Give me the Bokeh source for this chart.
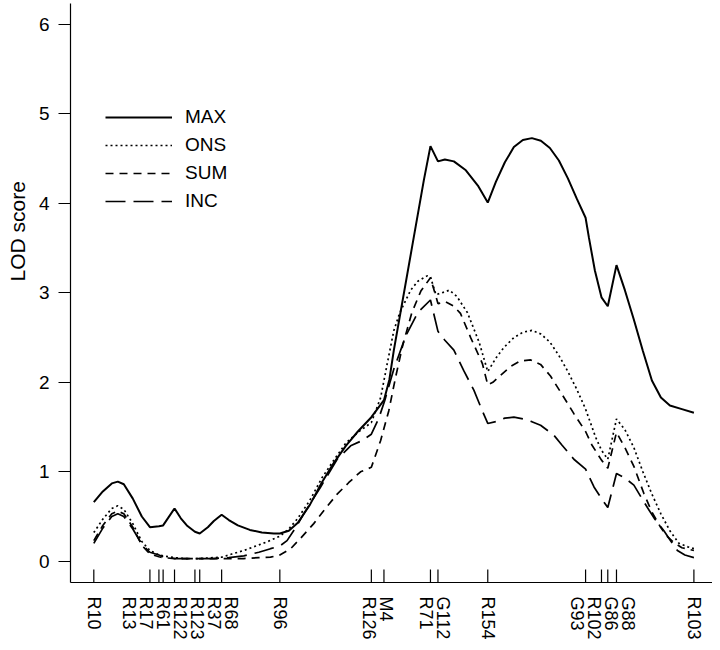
import math
from bokeh.plotting import figure
from bokeh.models import Range1d, FixedTicker, Legend, LegendItem, Title
from bokeh.embed import file_html
from bokeh.resources import INLINE

# ---------------- data ----------------
marker_names = ["R10", "R13", "R17", "R61", "R122", "R123", "R37", "R68", "R96",
                "R126", "M4", "R71", "G112", "R154", "G93", "R102", "G86", "G88", "R103"]
marker_pos = [0.0, 18.7, 21.7, 23.1, 26.9, 33.7, 35.3, 42.6, 62.0,
              92.5, 96.7, 112.2, 114.7, 131.3, 163.9, 169.2, 171.3, 174.2, 200.0]

y_ticks = [0, 1, 2, 3, 4, 5, 6]

max_x = [0, 3, 6, 8, 10, 13, 16, 18.7, 21.7, 23.1, 26.9, 29, 31, 33.7, 35.3, 38, 40, 42.6,
         45, 48, 52, 56, 60, 62, 65, 68, 72, 76, 80, 84, 88, 92.5, 96.7, 98.5, 100, 102,
         106, 110, 112.2, 114.7, 117, 120, 124, 128, 131.3, 134, 137, 140, 143, 146, 149,
         152, 155, 158, 161, 163.9, 165, 167, 169.2, 171.3, 174.2, 177, 180, 183, 186, 189,
         192, 196, 200]
max_y = [0.66, 0.78, 0.87, 0.89, 0.86, 0.70, 0.50, 0.38, 0.39, 0.40, 0.59, 0.48, 0.40, 0.33, 0.31, 0.38, 0.45, 0.52,
         0.46, 0.40, 0.35, 0.32, 0.31, 0.31, 0.34, 0.43, 0.63, 0.88, 1.10, 1.29, 1.45, 1.61, 1.80, 2.03, 2.36, 2.74,
         3.50, 4.26, 4.64, 4.47, 4.49, 4.47, 4.37, 4.20, 4.01, 4.24, 4.46, 4.63, 4.71, 4.73, 4.70,
         4.62, 4.48, 4.28, 4.05, 3.84, 3.62, 3.25, 2.95, 2.85, 3.31, 3.03, 2.70, 2.35, 2.02, 1.83,
         1.74, 1.70, 1.66]

ons_x = [0, 3, 6, 8, 10, 13, 16, 18.7, 21.7, 23.1, 26.9, 30, 35, 40, 42.6, 46, 50, 54, 58, 62,
         65, 68, 72, 76, 80, 84, 88, 92.5, 95.6, 97.8, 100, 102, 105.6, 108, 111.1, 112.2, 114,
         116, 118.5, 121, 124.5, 128.4, 131.3, 134, 136.7, 140, 143, 146, 149, 152, 155, 158,
         161, 163.9, 167.2, 169.2, 171.3, 174.2, 177, 180, 183, 186, 189, 192, 195, 198, 200]
ons_y = [0.32, 0.47, 0.59, 0.62, 0.58, 0.42, 0.22, 0.12, 0.07, 0.06, 0.04, 0.03, 0.03, 0.04, 0.045, 0.08, 0.12, 0.17, 0.22, 0.28,
         0.36, 0.48, 0.68, 0.93, 1.13, 1.32, 1.44, 1.55, 1.83, 2.21, 2.58, 2.78, 3.03, 3.13, 3.19, 3.18, 2.98,
         3.00, 3.03, 2.96, 2.78, 2.45, 2.12, 2.27, 2.39, 2.50, 2.56, 2.58, 2.54, 2.45, 2.30, 2.12,
         1.92, 1.70, 1.39, 1.24, 1.14, 1.59, 1.47, 1.27, 1.00, 0.75, 0.53, 0.34, 0.20, 0.16, 0.14]

sum_x = [0, 3, 6, 8, 10, 13, 16, 18.7, 21.7, 23.1, 26.9, 30, 35, 40, 45, 50, 55, 58.9, 62, 65.6,
         69, 73.3, 77, 81.1, 85, 88.9, 92.5, 95.6, 98.3, 100.6, 103, 106, 109, 112.2, 114.7,
         117.2, 120, 122.2, 125.6, 129.5, 131.3, 133, 135.6, 139, 142.2, 145.6, 148.9, 152.2,
         155.6, 160, 163.9, 166, 169.2, 171.3, 174.2, 177, 180, 183.3, 186, 188.9, 191, 193.3,
         196, 200]
sum_y = [0.23, 0.40, 0.53, 0.56, 0.53, 0.38, 0.18, 0.08, 0.05, 0.04, 0.03, 0.03, 0.03, 0.03, 0.03, 0.03, 0.04, 0.045, 0.07, 0.14,
         0.26, 0.42, 0.58, 0.75, 0.88, 1.00, 1.05, 1.35, 1.68, 2.06, 2.42, 2.78, 3.02, 3.17, 2.88,
         2.90, 2.85, 2.77, 2.50, 2.21, 1.97, 2.00, 2.08, 2.18, 2.24, 2.25, 2.20, 2.07,
         1.89, 1.65, 1.45, 1.30, 1.13, 1.04, 1.44, 1.27, 1.06, 0.76, 0.55, 0.38, 0.28, 0.21,
         0.15, 0.12]

inc_x = [0, 3, 6, 8, 10, 13, 16, 18.7, 21.7, 23.1, 26.9, 30, 35, 40, 45, 50, 55, 58.9, 62, 64.4,
         67, 70, 75.6, 81.1, 85.6, 89.5, 92.5, 95, 97, 100, 104, 108, 112.2, 114.7, 117, 120,
         123.3, 126.7, 129.5, 131.3, 134, 137, 140, 143.3, 146, 148.9, 153.3, 156, 160, 163.9,
         166.7, 169.2, 171.3, 174.2, 177, 180, 184.5, 187, 190, 192, 194.5, 197, 200]
inc_y = [0.20, 0.37, 0.50, 0.53, 0.50, 0.36, 0.19, 0.10, 0.07, 0.05, 0.03, 0.03, 0.03, 0.03, 0.04, 0.06, 0.10, 0.14, 0.17, 0.23,
         0.36, 0.53, 0.83, 1.14, 1.29, 1.35, 1.42, 1.60, 1.80, 2.15, 2.52, 2.78, 2.92, 2.57, 2.47, 2.36,
         2.13, 1.91, 1.68, 1.54, 1.56, 1.60, 1.61, 1.59, 1.56, 1.52, 1.41, 1.30, 1.14, 1.03,
         0.83, 0.70, 0.60, 0.98, 0.93, 0.85, 0.60, 0.47, 0.34, 0.24, 0.12, 0.07, 0.04]

# ---------------- layout ----------------
FONT = "Liberation Sans"
FS = "19px"
XFS = "18px"
W, H = 712, 642
BL, BT, BB, BR = 70, 3, 60, 0
X0, X1 = -7.77, 206.2
Y0, Y1 = -0.238, 6.235
PX_PER_CM = (W - BL - BR) / (X1 - X0)
PX_PER_LOD = (H - BT - BB) / (Y1 - Y0)
LABEL_GAP = 17.0 / PX_PER_CM  # minimum label spacing in cM


def spread(pos, gap):
    groups = [[p] for p in pos]

    def place(g):
        c = sum(g) / len(g)
        s = c - gap * (len(g) - 1) / 2.0
        return s, s + gap * (len(g) - 1)

    changed = True
    while changed:
        changed = False
        for i in range(len(groups) - 1):
            _, e1 = place(groups[i])
            s2, _ = place(groups[i + 1])
            if s2 - e1 < gap:
                groups[i] = groups[i] + groups[i + 1]
                del groups[i + 1]
                changed = True
                break
    out = []
    for g in groups:
        s, _ = place(g)
        out += [round(s + gap * k, 4) for k in range(len(g))]
    return out


label_pos = spread(marker_pos, LABEL_GAP)

p = figure(width=W, height=H, x_range=Range1d(X0, X1), y_range=Range1d(Y0, Y1),
           output_backend="svg", toolbar_location=None,
           min_border_left=BL, min_border_right=BR, min_border_top=BT, min_border_bottom=BB)
p.grid.visible = False
p.outline_line_color = None
p.background_fill_color = "white"
p.border_fill_color = "white"

# curves
r_max = p.line(max_x, max_y, line_color="black", line_width=2.0)
r_ons = p.line(ons_x, ons_y, line_color="black", line_width=1.7, line_dash="2 3")
r_sum = p.line(sum_x, sum_y, line_color="black", line_width=1.7, line_dash="8 6")
r_inc = p.line(inc_x, inc_y, line_color="black", line_width=1.7, line_dash="20 8")

# marker ticks (pointing up from the x axis)
tick_len = 13.0 / PX_PER_LOD
p.segment(x0=marker_pos, y0=[Y0] * len(marker_pos), x1=marker_pos,
          y1=[Y0 + tick_len] * len(marker_pos), line_color="black", line_width=1.2)

# x axis: marker names at spread positions
xa = p.xaxis[0]
xa.ticker = FixedTicker(ticks=label_pos)
xa.major_label_overrides = {lp: nm for lp, nm in zip(label_pos, marker_names)}
xa.major_tick_in = 0
xa.major_tick_out = 0
xa.minor_tick_line_color = None
xa.major_label_orientation = -math.pi / 2
xa.major_label_standoff = 14
xa.axis_line_width = 1.2
xa.axis_line_color = "black"
xa.major_label_text_font = FONT
xa.major_label_text_font_size = XFS
xa.major_label_text_color = "black"

ya = p.yaxis[0]
ya.ticker = FixedTicker(ticks=y_ticks)
ya.major_tick_in = 0
ya.major_tick_out = 12
ya.minor_tick_line_color = None
ya.major_label_standoff = 9
ya.axis_line_width = 1.2
ya.axis_line_color = "black"
ya.major_tick_line_width = 1.2
ya.major_label_text_font = FONT
ya.major_label_text_font_size = FS
ya.major_label_text_color = "black"

p.add_layout(Title(text="LOD score", align="left", offset=301, standoff=9,
                   vertical_align="top",
                   text_font=FONT, text_font_size="21px", text_font_style="normal",
                   text_color="black"), "left")

legend = Legend(items=[LegendItem(label="MAX", renderers=[r_max]),
                       LegendItem(label="ONS", renderers=[r_ons]),
                       LegendItem(label="SUM", renderers=[r_sum]),
                       LegendItem(label="INC", renderers=[r_inc])],
                location=(35, 370), glyph_width=67, glyph_height=22, label_height=22,
                label_standoff=13, spacing=6, padding=0, margin=0,
                border_line_color=None, background_fill_alpha=0,
                label_text_font=FONT, label_text_font_size=FS, label_text_color="black")
p.add_layout(legend)

open("out.html", "w").write(file_html(p, INLINE))
